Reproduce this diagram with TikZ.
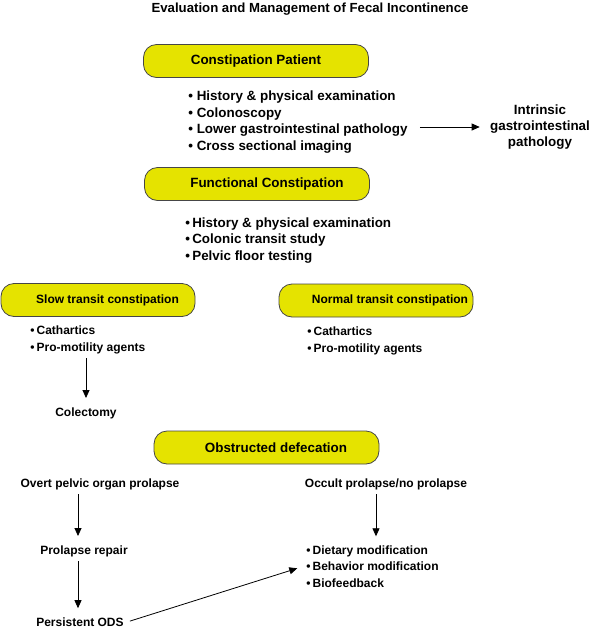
\documentclass[tikz,border=0pt]{standalone}
\usepackage{fontspec}
\setmainfont{Liberation Sans}
\usetikzlibrary{arrows.meta}
\definecolor{boxyellow}{RGB}{229,227,0}
\definecolor{boxedge}{RGB}{70,70,70}

\begin{document}
\begin{tikzpicture}[x=1pt, y=-1pt, >={Triangle[length=8pt,width=7pt]},
    font=\bfseries\fontsize{13.4}{16.4}\selectfont, line width=0.8pt,
    stage/.style={draw=boxedge, fill=boxyellow, rounded corners=13pt,
                  minimum height=33pt, inner sep=0pt},
    plain/.style={inner sep=3pt, align=center},
    items/.style={inner sep=3pt, align=left, anchor=west},
    small/.style={font=\bfseries\fontsize{12}{16.4}\selectfont},
    down/.style={->, shorten <=1pt, shorten >=6pt}]

    \useasboundingbox (0,0) rectangle (602,630);

    % ==========================================================
    % primera parte: paciente y estudio inicial
    % ==========================================================
    \node[plain, font=\bfseries\fontsize{13.2}{16}\selectfont] (title) at (310,9)
        {Evaluation and Management of Fecal Incontinence};

    \node[stage, minimum width=225pt] (patient) at (256,61) {Constipation Patient};
    \node[items] (workup) at (185,122)
        {\textbullet\ History \& physical examination\\
         \textbullet\ Colonoscopy\\
         \textbullet\ Lower gastrointestinal pathology\\
         \textbullet\ Cross sectional imaging};
    \node[plain] (intrinsic) at (540,127) {Intrinsic\\gastrointestinal\\pathology};
    \draw[->, shorten <=9pt, shorten >=7pt] (workup.east |- intrinsic.center) -- (intrinsic.west);

    \node[stage, minimum width=225pt] (functional) at (257,184)
        {\hspace*{20pt}Functional Constipation};
    \node[items] (testing) at (182,240.5)
        {\textbullet\,History \& physical examination\\
         \textbullet\,Colonic transit study\\
         \textbullet\,Pelvic floor testing};

    % ==========================================================
    % segunda parte: transito lento y normal
    % ==========================================================
    \node[stage, small, minimum width=194pt] (slow) at (98,300)
        {\hspace*{19pt}Slow transit constipation};
    \node[stage, small, minimum width=194pt] (normal) at (376,300.5)
        {\hspace*{28pt}Normal transit constipation};

    \node[items, small] (slowdrugs) at (27,340)
        {\textbullet\,Cathartics\\\textbullet\,Pro-motility agents};
    \node[items, small] (normaldrugs) at (304,341)
        {\textbullet\,Cathartics\\\textbullet\,Pro-motility agents};

    \node[plain, small] (colectomy) at (86,413) {Colectomy};
    \draw[down] (slowdrugs.south -| colectomy.north) -- (colectomy.north);

    % ==========================================================
    % tercera parte: defecacion obstruida
    % ==========================================================
    \node[stage, minimum width=225pt] (obstructed) at (266.5,447.5)
        {\hspace*{19pt}Obstructed defecation};

    \node[plain, small] (overt) at (100,484) {Overt pelvic organ prolapse};
    \node[plain, small] (occult) at (386,484) {Occult prolapse/no prolapse};
    \node[plain, small] (repair) at (84,551) {Prolapse repair};
    \node[plain, small] (persist) at (80,622) {Persistent ODS};
    \node[items, small] (conservative) at (303,566.5)
        {\textbullet\,Dietary modification\\
         \textbullet\,Behavior modification\\
         \textbullet\,Biofeedback};

    \draw[down] ([xshift=-22pt]overt.south) -- ([xshift=-6pt]repair.north);
    \draw[down] ([xshift=-6pt]repair.south) -- ([xshift=-2pt]persist.north);
    \draw[down] ([xshift=-10pt]occult.south) -- ([xshift=-10pt]occult.south |- conservative.north);
    \draw[->, shorten <=3pt, shorten >=6pt] (persist.east) -- (conservative.west);

\end{tikzpicture}
\end{document}
